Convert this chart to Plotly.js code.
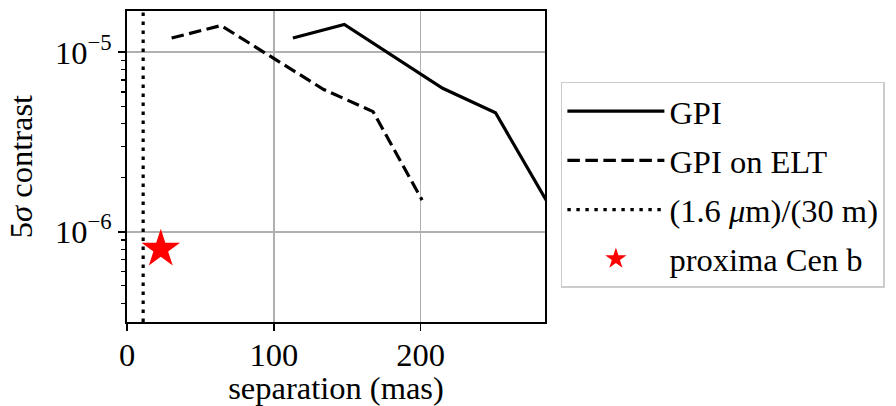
<!DOCTYPE html>
<html>
<head>
<meta charset="utf-8">
<script src="https://cdn.plot.ly/plotly-3.0.1.min.js"></script>
<style>
  html, body { margin: 0; padding: 0; background: #ffffff; }
  #chart { width: 896px; height: 406px; }
</style>
</head>
<body>
<div id="chart"></div>
<script>
// 5-sigma contrast curves versus angular separation
const gpiSep = [113, 148, 215, 251, 285.5];
const gpiContrast = [1.2e-5, 1.43e-5, 6.3e-6, 4.6e-6, 1.5e-6];

const eltSep = [30.4, 64, 134, 167.6, 201];
const eltContrast = [1.2e-5, 1.41e-5, 6.2e-6, 4.67e-6, 1.5e-6];

// diffraction limit lambda/D for 1.6 um on a 30 m aperture, in mas
const lambdaOverD = 1.6e-6 / 30 * 206264806;

const proximaSep = [23];
const proximaContrast = [8e-7];

const xRange = [0, 284.7];
const yRangeLog = [-6.503, -4.77];

const yTickVals = [1e-6, 1e-5];
const yTickText = ['10<sup>\u22126</sup>', '10<sup>\u22125</sup>'];
const yMinorVals = [4e-7, 5e-7, 6e-7, 7e-7, 8e-7, 9e-7,
                    2e-6, 3e-6, 4e-6, 5e-6, 6e-6, 7e-6, 8e-6, 9e-6];
const xTickVals = [0, 100, 200];

const serif = 'Liberation Serif, Times New Roman, serif';
const fs = 32.5;

const traces = [
  {
    x: gpiSep, y: gpiContrast, name: 'GPI', mode: 'lines',
    line: { color: '#000000', width: 3.2 },
    legendgroup: 'a'
  },
  {
    x: eltSep, y: eltContrast, name: 'GPI on ELT', mode: 'lines',
    line: { color: '#000000', width: 3.2, dash: '12.5px,5.5px' },
    legendgroup: 'b'
  },
  {
    x: [lambdaOverD, lambdaOverD],
    y: [Math.pow(10, yRangeLog[0]), Math.pow(10, yRangeLog[1])],
    name: '(1.6 <i>\u03bc</i>m)/(30 m)', mode: 'lines',
    line: { color: '#000000', width: 3.2, dash: '3.4px,5.6px' },
    legendgroup: 'c'
  },
  {
    x: proximaSep, y: proximaContrast, name: 'proxima Cen b', mode: 'markers',
    marker: { symbol: 'star', size: 29, color: '#ff0000', line: { width: 0 } },
    legendgroup: 'd'
  }
];

const layout = {
  width: 896,
  height: 406,
  margin: { l: 127, r: 349, t: 11, b: 84 },
  paper_bgcolor: '#ffffff',
  plot_bgcolor: '#ffffff',
  font: { family: serif, size: fs, color: '#000000' },
  showlegend: true,
  legend: {
    x: 1.038, xanchor: 'left',
    y: 0.772, yanchor: 'top',
    bordercolor: '#cccccc', borderwidth: 1.5,
    bgcolor: '#ffffff',
    font: { family: serif, size: fs, color: '#000000' },
    traceorder: 'grouped',
    tracegroupgap: 4,
    itemwidth: 97
  },
  xaxis: {
    range: xRange,
    tickmode: 'array', tickvals: xTickVals,
    ticks: 'outside', ticklen: 7, tickwidth: 1.6, tickcolor: '#000000',
    ticklabelstandoff: -4,
    showgrid: true, gridcolor: '#b0b0b0', gridwidth: 1.6,
    showline: true, linecolor: '#000000', linewidth: 1.8, mirror: true,
    zeroline: false,
    tickfont: { family: serif, size: fs },
    title: { text: 'separation (mas)', font: { family: serif, size: fs }, standoff: 0 }
  },
  yaxis: {
    type: 'log',
    range: yRangeLog,
    tickmode: 'array', tickvals: yTickVals, ticktext: yTickText,
    ticks: 'outside', ticklen: 7, tickwidth: 1.6, tickcolor: '#000000',
    minor: { tickmode: 'array', tickvals: yMinorVals, ticks: 'outside', ticklen: 4, tickwidth: 1.2, tickcolor: '#000000', showgrid: false },
    showgrid: true, gridcolor: '#b0b0b0', gridwidth: 1.6,
    showline: true, linecolor: '#000000', linewidth: 1.8, mirror: true,
    zeroline: false,
    tickfont: { family: serif, size: fs },
    title: { text: '5<i>\u03c3</i> contrast', font: { family: serif, size: fs }, standoff: 13 }
  }
};

Plotly.newPlot('chart', traces, layout, { displayModeBar: false, staticPlot: true });
</script>
</body>
</html>
